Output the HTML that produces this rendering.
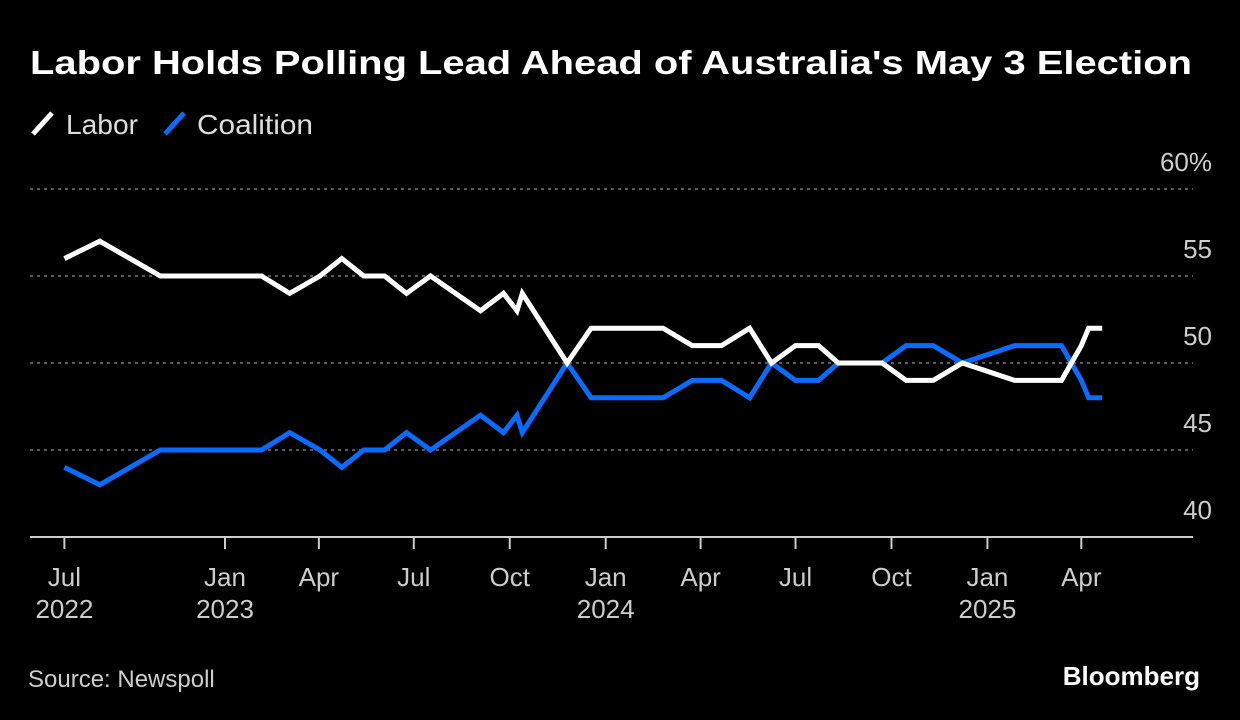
<!DOCTYPE html>
<html><head><meta charset="utf-8"><style>
html,body{margin:0;padding:0;background:#000;width:1240px;height:720px;overflow:hidden}
svg{display:block;font-family:"Liberation Sans",sans-serif}
</style></head><body>
<svg id="chart" width="1240" height="720" viewBox="0 0 1240 720">
<text x="30" y="74" fill="#fff" font-size="33" font-weight="bold" textLength="1162" lengthAdjust="spacingAndGlyphs">Labor Holds Polling Lead Ahead of Australia's May 3 Election</text>
<g>
<g><line x1="33" y1="134" x2="52" y2="113" stroke="#fff" stroke-width="5"/><text x="66" y="134" fill="#ddd" font-size="28" textLength="72" lengthAdjust="spacingAndGlyphs">Labor</text></g>
<g><line x1="165" y1="134" x2="184" y2="113" stroke="#0a6cff" stroke-width="5"/><text x="197" y="134" fill="#ddd" font-size="28" textLength="116" lengthAdjust="spacingAndGlyphs">Coalition</text></g>
</g>
<g id="grid"></g>
<g id="xaxis"></g>
<g id="series"></g>
<text x="28" y="687" fill="#ccc" font-size="24">Source: Newspoll</text>
<text x="1200" y="685" fill="#fff" font-size="26" font-weight="bold" text-anchor="end">Bloomberg</text>
</svg>
<script>
const dates = ['2022-07-31','2022-09-03','2022-10-31','2023-02-05','2023-03-04','2023-04-02','2023-04-23','2023-05-14','2023-06-03','2023-06-24','2023-07-17','2023-09-03','2023-09-25','2023-10-08','2023-10-13','2023-11-25','2023-12-18','2024-02-25','2024-03-24','2024-04-21','2024-05-18','2024-06-08','2024-07-01','2024-07-23','2024-08-11','2024-09-22','2024-10-15','2024-11-10','2024-12-08','2025-01-27','2025-03-13','2025-04-01','2025-04-08','2025-04-21'];
const labor = [56,57,55,55,54,55,56,55,55,54,55,53,54,53,54,50,52,52,51,51,52,50,51,51,50,50,49,49,50,49,49,51,52,52];
const coalition = [44,43,45,45,46,45,44,45,45,46,45,47,46,47,46,50,48,48,49,49,48,50,49,49,50,50,51,51,50,51,51,49,48,48];
const yTicks = [40,45,50,55,60];
const yTickLabels = ['40','45','50','55','60%'];
const xTickDates = ['2022-07-31','2023-01-01','2023-04-01','2023-07-01','2023-10-01','2024-01-01','2024-04-01','2024-07-01','2024-10-01','2025-01-01','2025-04-01'];
const xTickLabels = [['Jul','2022'],['Jan','2023'],['Apr'],['Jul'],['Oct'],['Jan','2024'],['Apr'],['Jul'],['Oct'],['Jan','2025'],['Apr']];

const NS='http://www.w3.org/2000/svg';
const t0 = Date.UTC(2023,0,1);
function dayOf(s){const p=s.split('-');return (Date.UTC(+p[0],+p[1]-1,+p[2])-t0)/86400000;}
function x(s){return 225+dayOf(s)*1.043;}
function y(v){return 363-(v-50)*17.4;}
function mk(tag,attrs,parent){const e=document.createElementNS(NS,tag);for(const k in attrs)e.setAttribute(k,attrs[k]);parent.appendChild(e);return e;}
const grid=document.getElementById('grid'), xa=document.getElementById('xaxis'), ser=document.getElementById('series');
yTicks.forEach((v,i)=>{
  if(v>40){const l=mk('line',{x1:30,x2:1193,y1:y(v),y2:y(v),stroke:'#777','stroke-width':1.5,'stroke-dasharray':'3,4'},grid);
  
  }
  const t=mk('text',{x:1212,y:y(v)-18,fill:'#ccc','font-size':26,'text-anchor':'end'},grid);
  t.textContent=yTickLabels[i];
  
  
});
const ax=mk('line',{x1:30,x2:1193,y1:537,y2:537,stroke:'#ccc','stroke-width':2},xa);


xTickDates.forEach((d,i)=>{
  const xx=x(d);
  const tk=mk('line',{x1:xx,x2:xx,y1:537,y2:549,stroke:'#ccc','stroke-width':2},xa);
  
  
  xTickLabels[i].forEach((s,j)=>{
    const t=mk('text',{x:xx,y:586+j*32,fill:'#ccc','font-size':26,'text-anchor':'middle'},xa);
    t.textContent=s;
    
    
  });
});
function drawLine(vals,color,name){
  const pts=dates.map((d,i)=>x(d).toFixed(1)+','+y(vals[i]).toFixed(1)).join(' ');
  const p=mk('polyline',{points:pts,fill:'none',stroke:color,'stroke-width':5,'stroke-linejoin':'miter','stroke-miterlimit':3},ser);
  
  
}
drawLine(coalition,'#0a6cff','line-coalition');
drawLine(labor,'#ffffff','line-labor');
</script>
</body></html>
